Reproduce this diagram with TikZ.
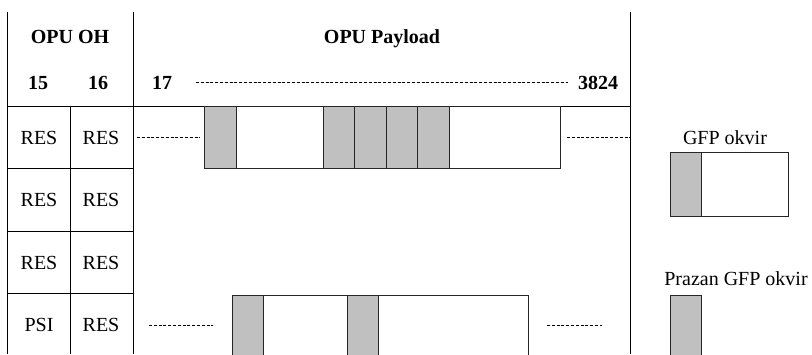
\documentclass[tikz,border=0pt]{standalone}
\usepackage{fontspec}
\setmainfont{Liberation Serif}
\definecolor{cellgray}{HTML}{C0C0C0}
\begin{document}
\begin{tikzpicture}[x=1pt,y=-1pt,
  grid/.style={line width=0.8pt,black},
  frame/.style={line width=1pt,draw=black!85},
  gfp/.style={frame,fill=cellgray},
  dots/.style={line width=0.6pt,dash pattern=on 3pt off 1.8pt},
  lbl/.style={font=\fontsize{20}{22}\selectfont,anchor=base,inner sep=0pt},
  blbl/.style={lbl,font=\fontsize{20}{22}\selectfont\bfseries}]
\useasboundingbox (0,0) rectangle (812,354);
% table grid
\draw[grid] (7.3,12) -- (7.3,354);
\draw[grid] (133.3,12) -- (133.3,354);
\draw[grid] (630,12) -- (630,354);
\draw[grid] (70,106) -- (70,354);
\draw[grid] (7.3,106) -- (630,106);
\draw[grid] (7.3,168.5) -- (133.3,168.5);
\draw[grid] (7.3,231) -- (133.3,231);
\draw[grid] (7.3,293.5) -- (133.3,293.5);
% headers
\node[blbl] (oh) at (70,43) {OPU OH};
\node[blbl] (pl) at (382,43) {OPU Payload};
\node[blbl] (c15) at (38,89) {15};
\node[blbl] (c16) at (98,89) {16};
\node[blbl] (c17) at (162,89) {17};
\node[blbl] (c3824) at (598,89) {3824};
\draw[dots] (196,82) -- (568,82);
% cells
\node[lbl] (r1a) at (39,144) {RES};
\node[lbl] (r1b) at (101,144) {RES};
\node[lbl] (r2a) at (39,206.5) {RES};
\node[lbl] (r2b) at (101,206.5) {RES};
\node[lbl] (r3a) at (39,269) {RES};
\node[lbl] (r3b) at (101,269) {RES};
\node[lbl] (r4a) at (39,331.5) {PSI};
\node[lbl] (r4b) at (101,331.5) {RES};
% row 1 frames
\draw[frame] (204,106) rectangle (560,168.5);
\draw[gfp] (204,106) rectangle (236,168.5);
\draw[gfp] (323,106) rectangle (354.5,168.5);
\draw[gfp] (354.5,106) rectangle (386,168.5);
\draw[gfp] (386,106) rectangle (417.5,168.5);
\draw[gfp] (417.5,106) rectangle (449,168.5);
\draw[dots] (137,137.3) -- (200,137.3);
\draw[dots] (567,137.3) -- (630,137.3);
% row 4 frames
\draw[frame] (232,360) -- (232,295) -- (528,295) -- (528,360);
\draw[gfp] (232,360) -- (232,295) -- (263,295) -- (263,360);
\draw[gfp] (347,360) -- (347,295) -- (378,295) -- (378,360);
\draw[dots] (149,325.5) -- (213,325.5);
\draw[dots] (547,325.5) -- (602,325.5);
% legend
\node[lbl] (leg1) at (725,144) {GFP okvir};
\draw[frame] (670,152.7) rectangle (788,216.7);
\draw[gfp] (670,152.7) rectangle (701.7,216.7);
\node[lbl] (leg2) at (736,285) {Prazan GFP okvir};
\draw[gfp] (670,360) -- (670,295) -- (701.7,295) -- (701.7,360);
\end{tikzpicture}
\end{document}
